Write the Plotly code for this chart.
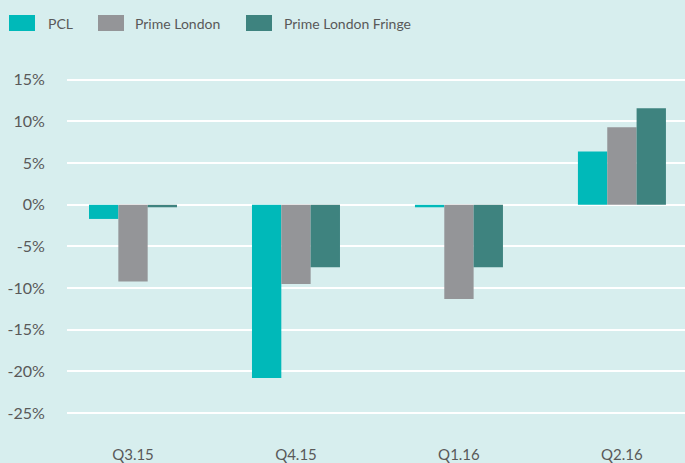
import plotly.graph_objects as go

categories = ["Q3.15", "Q4.15", "Q1.16", "Q2.16"]
pcl = [-1.7, -20.8, -0.3, 6.4]
prime_london = [-9.2, -9.5, -11.3, 9.3]
prime_london_fringe = [-0.3, -7.5, -7.5, 11.6]
series_names = ["PCL", "Prime London", "Prime London Fringe"]
series_colors = ["#00B9B9", "#949598", "#3E837F"]
tick_vals = [-25, -20, -15, -10, -5, 0, 5, 10, 15]
tick_text = [f"{v}%" for v in tick_vals]

bg = "#D7EEEE"
font_color = "#595959"

W, H = 685, 463
L, R, T, B = 67, 0, 59, 25
pw, ph = W - L - R, H - T - B

def px_x(p):
    return (p - L) / pw

def px_y(p):
    return (H - B - p) / ph

fig = go.Figure()
for name, vals, col in zip(series_names, [pcl, prime_london, prime_london_fringe], series_colors):
    fig.add_bar(x=categories, y=vals, name=name, marker_color=col, marker_line_width=0, showlegend=False)

# custom legend (swatch rectangles + labels)
sw_left = [9, 98, 246]
txt_left = [46, 133, 282]
for name, col, sx, tx in zip(series_names, series_colors, sw_left, txt_left):
    fig.add_shape(type="rect", xref="paper", yref="paper",
                  x0=px_x(sx), x1=px_x(sx + 26), y0=px_y(31), y1=px_y(15),
                  fillcolor=col, line_width=0)
    fig.add_annotation(xref="paper", yref="paper", x=px_x(tx), y=px_y(23),
                       xanchor="left", yanchor="middle", text=name, showarrow=False,
                       font=dict(size=14, color=font_color, family="Lato"))

fig.update_layout(
    width=W, height=H,
    paper_bgcolor=bg, plot_bgcolor=bg,
    margin=dict(l=L, r=R, t=T, b=B, autoexpand=False),
    barmode="group", bargap=0.46, bargroupgap=0,
    font=dict(family="Lato", size=16, color=font_color),
    showlegend=False,
    xaxis=dict(type="category", range=[-0.405, 3.387], showgrid=False, zeroline=False,
               showline=False, ticks="outside", ticklen=3, tickcolor=bg,
               tickfont=dict(size=15, color=font_color)),
    yaxis=dict(range=[-28, 17.5], tickvals=tick_vals, ticktext=tick_text,
               showgrid=True, gridcolor="white", gridwidth=2, zeroline=True,
               zerolinecolor="white", zerolinewidth=2, showline=False,
               ticks="outside", ticklen=18, tickcolor=bg,
               tickfont=dict(size=16, color=font_color)),
)

fig.write_html("out.html", config={"displayModeBar": False},
               post_script="document.body.style.margin='0';document.body.style.overflow='hidden';")
